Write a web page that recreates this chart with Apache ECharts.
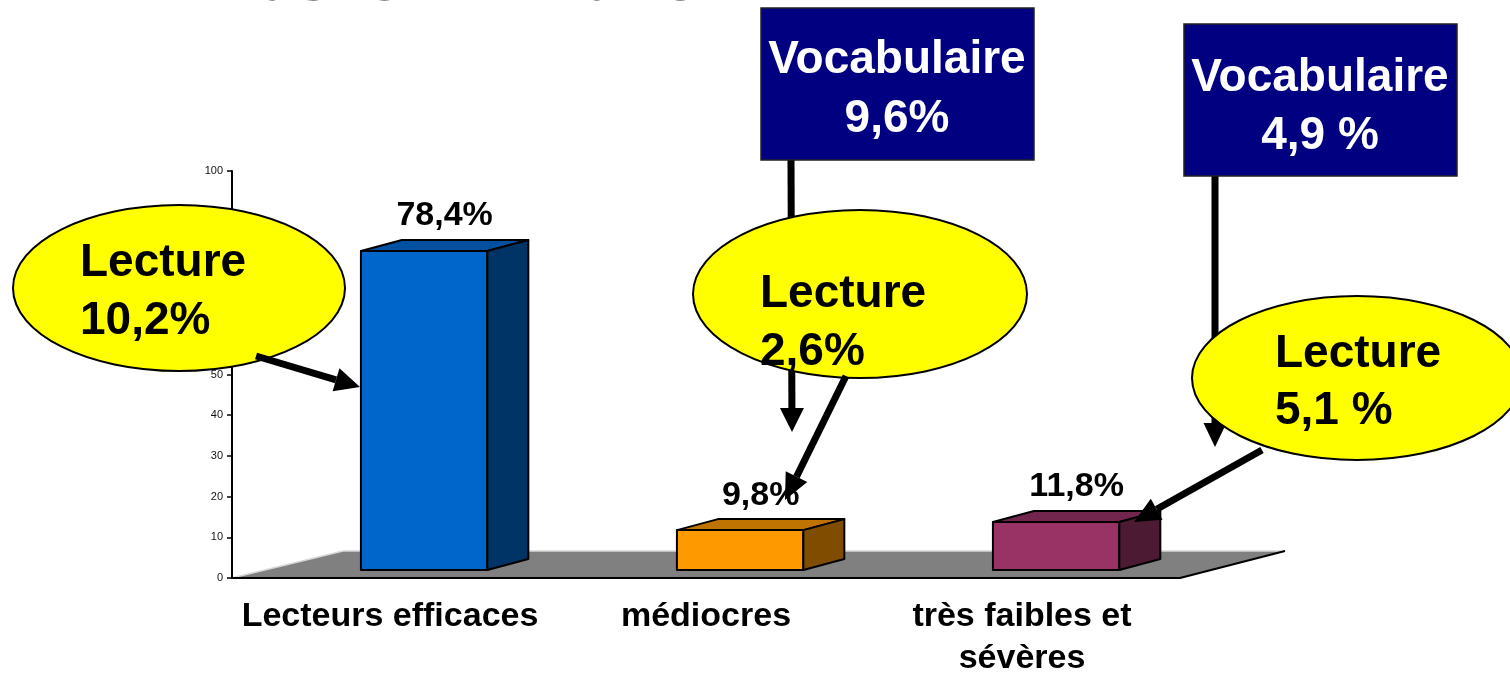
<!DOCTYPE html>
<html>
<head>
<meta charset="utf-8">
<script src="https://cdn.jsdelivr.net/npm/echarts@6/dist/echarts.min.js"></script>
<style>
  html, body { margin: 0; padding: 0; background: #fff; }
  #chart { width: 1510px; height: 676px; }
</style>
</head>
<body>
<div id="chart"></div>
<script>
// 数据
var categories = ['Lecteurs efficaces', 'médiocres', 'très faibles et\nsévères'];
var values = [78.4, 9.8, 11.8];
var valueLabels = ['78,4%', '9,8%', '11,8%'];
var yMin = 0, yMax = 100, yStep = 10;

// 柱子颜色：正面 / 顶面 / 侧面
var barColors = [
  ['#0066CC', '#0050A0', '#003366'],
  ['#FF9900', '#BF7300', '#7F4C00'],
  ['#993366', '#73264D', '#4D1A33']
];

var FONT = '"Liberation Sans", Arial, sans-serif';
var DX = 41, DY = -11;   // 柱子深度
var LIFT = 8;            // 柱子底部离地板前沿

var chart = echarts.init(document.getElementById('chart'));

// 灰色地板
function renderFloor(params, api) {
  var cs = params.coordSys;
  var x0 = cs.x, x1 = cs.x + cs.width, y0 = cs.y + cs.height;
  var top = y0 - 27;
  return {
    type: 'group',
    children: [
      { type: 'polygon', shape: { points: [[x0, y0], [x1, y0], [x1 + 105, top], [x0 + 111, top]] },
        style: { fill: '#808080' } },
      { type: 'polyline', shape: { points: [[x0, y0], [x0 + 111, top], [x1 + 105, top]] },
        style: { stroke: '#d8d8d8', lineWidth: 1.5, fill: null } },
      { type: 'line', shape: { x1: x1, y1: y0, x2: x1 + 105, y2: top },
        style: { stroke: '#000', lineWidth: 2 } }
    ]
  };
}

// 3D 柱子
function renderBar(params, api) {
  var i = api.value(0);
  var band = api.size([1, 0])[0];
  var c = api.coord([i, api.value(1)]);
  var b = api.coord([i, 0]);
  var cx = c[0] + band * 0.108;
  var hw = band * 0.2;
  var l = cx - hw, r = cx + hw, t = c[1] - LIFT, bt = b[1] - LIFT;
  var col = barColors[i];
  var edge = { stroke: '#000', lineWidth: 2, lineJoin: 'round' };
  return {
    type: 'group',
    children: [
      { type: 'polygon', shape: { points: [[l, bt], [r, bt], [r, t], [l, t]] },
        style: Object.assign({ fill: col[0] }, edge) },
      { type: 'polygon', shape: { points: [[l, t], [r, t], [r + DX, t + DY], [l + DX, t + DY]] },
        style: Object.assign({ fill: col[1] }, edge) },
      { type: 'polygon', shape: { points: [[r, bt], [r + DX, bt + DY], [r + DX, t + DY], [r, t]] },
        style: Object.assign({ fill: col[2] }, edge) },
      { type: 'text', x: cx + DX / 2, y: t + DY - 12 - 34 * 0.35,
        style: { text: valueLabels[i], font: 'bold 34px ' + FONT, fill: '#000',
                 align: 'center', verticalAlign: 'middle' } }
    ]
  };
}

function txt(x, baseline, s, size, color, align) {
  return { type: 'text', z: 80, x: x, y: baseline - size * 0.35,
    style: { text: s, font: 'bold ' + size + 'px ' + FONT, fill: color,
             align: align || 'left', verticalAlign: 'middle' } };
}

function arrow(x1, y1, x2, y2, head, w, z) {
  var a = Math.atan2(y2 - y1, x2 - x1);
  var bx = x2 - head * Math.cos(a), by = y2 - head * Math.sin(a);
  var nx = -Math.sin(a) * w / 2, ny = Math.cos(a) * w / 2;
  return [
    { type: 'line', z: z, shape: { x1: x1, y1: y1, x2: bx, y2: by },
      style: { stroke: '#000', lineWidth: 7 } },
    { type: 'polygon', z: z, shape: { points: [[x2, y2], [bx + nx, by + ny], [bx - nx, by - ny]] },
      style: { fill: '#000' } }
  ];
}

function ellipse(cx, cy, rx, ry) {
  return { type: 'ellipse', z: 60, shape: { cx: cx, cy: cy, rx: rx, ry: ry },
    style: { fill: '#FFFF00', stroke: '#000', lineWidth: 2 } };
}

function box(x, y, w, h) {
  return { type: 'rect', z: 55, shape: { x: x, y: y, width: w, height: h },
    style: { fill: '#000080', stroke: '#222', lineWidth: 1.5 } };
}

var annotations = [].concat(
  [txt(205, 6, 'Les CM2 2015', 75, '#000')],
  arrow(791, 160, 792, 432, 24, 24, 50),
  arrow(1215, 176, 1215, 447, 24, 23, 50),
  [box(761, 8, 273, 152), box(1184, 24, 273, 152)],
  [txt(897, 76, 'Vocabulaire', 46, '#fff', 'center'), txt(897, 135, '9,6%', 46, '#fff', 'center'),
   txt(1320, 94, 'Vocabulaire', 46, '#fff', 'center'), txt(1320, 152, '4,9 %', 46, '#fff', 'center')],
  [ellipse(179, 288, 166, 83), ellipse(860, 294, 167, 84), ellipse(1357, 378, 165, 82)],
  arrow(256, 356, 360, 387, 25, 24, 70),
  arrow(846, 376, 785, 500, 26, 24, 70),
  arrow(1262, 450, 1134, 522, 26, 24, 70),
  [txt(80, 279, 'Lecture', 46, '#000'), txt(80, 337, '10,2%', 46, '#000'),
   txt(760, 310, 'Lecture', 46, '#000'), txt(760, 368, '2,6%', 46, '#000'),
   txt(1275, 370, 'Lecture', 46, '#000'), txt(1275, 427, '5,1 %', 46, '#000')]
);

var option = {
  animation: false,
  grid: { left: 232, right: 330, top: 171, bottom: 98, containLabel: false, outerBoundsMode: 'none' },
  xAxis: {
    type: 'category',
    data: categories,
    z: 10,
    axisLine: { lineStyle: { color: '#000', width: 2 } },
    axisTick: { length: 10, lineStyle: { color: '#000', width: 2 } },
    axisLabel: {
      interval: 0, margin: 18, color: '#000', fontFamily: FONT, fontWeight: 'bold',
      fontSize: 34, lineHeight: 42, verticalAlign: 'top'
    }
  },
  yAxis: {
    type: 'value',
    min: yMin, max: yMax, interval: yStep,
    axisLine: { show: true, lineStyle: { color: '#000', width: 2 } },
    axisTick: { show: true, length: 5, lineStyle: { color: '#000', width: 1.5 } },
    axisLabel: { margin: 9, color: '#111', fontFamily: FONT, fontSize: 11 },
    splitLine: { show: false }
  },
  series: [
    { type: 'custom', z: 1, renderItem: renderFloor, data: [[0, 0]], silent: true },
    { type: 'custom', z: 3, renderItem: renderBar,
      data: values.map(function (v, i) { return [i, v]; }) }
  ],
  graphic: { elements: annotations }
};

chart.setOption(option);
</script>
</body>
</html>
